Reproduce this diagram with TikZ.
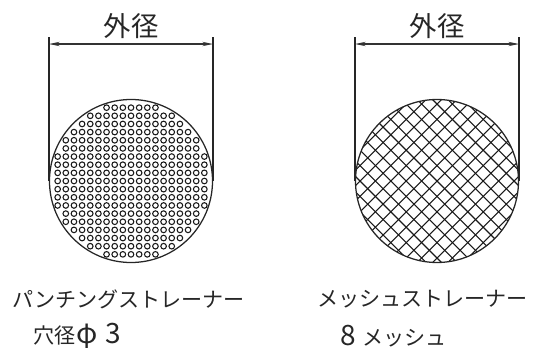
\documentclass[tikz,border=0pt]{standalone}
\usepackage{fontspec}
\usetikzlibrary{arrows.meta}
\newfontfamily\cjk{Noto Sans CJK JP}
\newcommand{\bigch}[1]{{\fontsize{21}{16}\selectfont #1}}
\tikzset{
    outline/.style   = {line width=.95pt, black!85},
    fine/.style      = {line width=.8pt, black!90},
    dimline/.style   = {line width=.8pt, black!80, {Stealth[length=8pt,width=3.2pt]}-{Stealth[length=8pt,width=3.2pt]}},
    dimtitle/.style  = {inner sep=0pt, text=black!85, font=\cjk\fontsize{20.5}{20}\selectfont},
    caption/.style   = {inner sep=0pt, anchor=west, text=black!85, font=\cjk\fontsize{15.8}{16}\selectfont}
}
\begin{document}
\begin{tikzpicture}[x=.75pt, y=-.75pt]
    \useasboundingbox (0,0) rectangle (545,347);
    \coordinate (punchC) at (131,181);
    \coordinate (meshC)  at (437,181);
    % Lochblech
    \foreach \row/\half in {-9/3,-8/5,-7/6,-6/7,-5/8,-4/8,-3/9,-2/9,-1/9,0/9,1/9,2/9,3/9,4/8,5/8,6/7,7/6,8/5,9/3} {
        \foreach \col in {-\half,...,\half} {
            \draw [fine] (131+8.15*\col, 181+8.15*\row) circle (2.8);
        }
    }
    \draw [outline] (punchC) circle (81.5);
    % Gewebe
    \begin{scope}
        \clip (meshC) circle (81.5);
        \foreach \k in {-8,...,8} {
            \draw [fine] (437+15.4*\k-90, 181-90) -- (437+15.4*\k+90, 181+90);
            \draw [fine] (437+15.4*\k+90, 181-90) -- (437+15.4*\k-90, 181+90);
        }
    \end{scope}
    \draw [outline] (meshC) circle (81.5);
    % Masslinien
    \foreach \name/\cx in {punch/131, mesh/437} {
        \coordinate (\name L) at (\cx-82, 37);
        \coordinate (\name R) at (\cx+82, 37);
        \coordinate (\name DL) at (\cx-82, 44);
        \coordinate (\name DR) at (\cx+82, 44);
        \draw [outline] (\name L) -- (\name L |- \name C);
        \draw [outline] (\name R) -- (\name R |- \name C);
        \draw [dimline] (\name DL) -- (\name DR);
        \node [dimtitle] (\name Title) at (\cx, 26) {外径};
    }
    % Beschriftung
    \node [caption] (punchName) at (12, 299)  {パンチングストレーナー};
    \node [caption] (punchHole) at (33, 336)  {穴径\hspace{1pt}\bigch{φ}\hspace{6pt}\bigch{3}};
    \node [caption] (meshName)  at (317, 299) {メッシュストレーナー};
    \node [caption] (meshCount) at (340, 336) {\bigch{8}\hspace{5pt}メッシュ};
\end{tikzpicture}
\end{document}
